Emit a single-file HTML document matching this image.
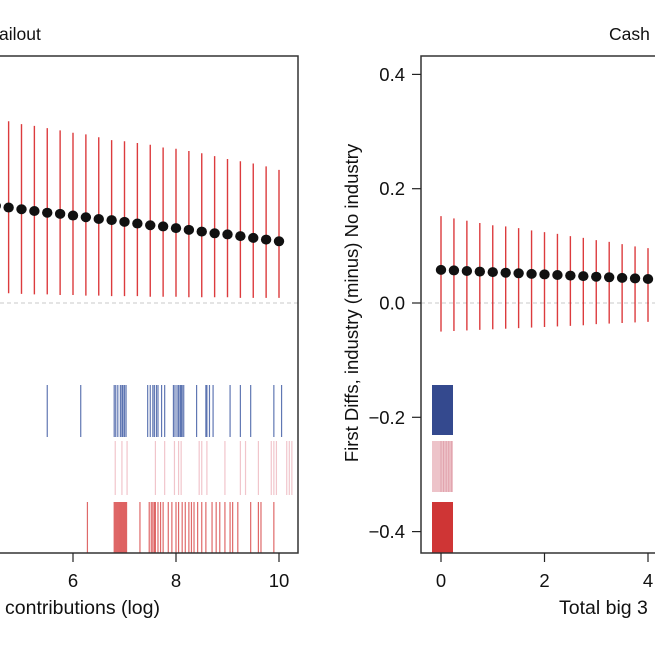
<!DOCTYPE html>
<html><head><meta charset="utf-8"><style>
body{margin:0;background:#fff}
svg{display:block;font-family:"Liberation Sans",Arial,sans-serif}
</style></head><body>
<svg id="c" width="655" height="655" viewBox="0 0 655 655">
<defs>
<clipPath id="clipL"><rect x="0" y="56" width="298" height="497"/></clipPath>
<clipPath id="clipR"><rect x="421" y="56" width="234" height="497"/></clipPath>
</defs>
<g id="left"></g>
<g id="right"></g>
</svg>
<script>
const leftX=[4.5,4.75,5,5.25,5.5,5.75,6,6.25,6.5,6.75,7,7.25,7.5,7.75,8,8.25,8.5,8.75,9,9.25,9.5,9.75,10];
const leftEst=[0.170,0.167,0.164,0.161,0.158,0.156,0.153,0.150,0.147,0.145,0.142,0.139,0.136,0.134,0.131,0.128,0.125,0.122,0.120,0.117,0.114,0.111,0.108];
const leftHi=[0.322,0.318,0.313,0.310,0.306,0.302,0.298,0.295,0.290,0.285,0.283,0.280,0.277,0.272,0.270,0.266,0.262,0.257,0.252,0.248,0.244,0.239,0.233];
const leftLo=[0.018,0.017,0.016,0.015,0.015,0.014,0.014,0.013,0.013,0.012,0.012,0.012,0.011,0.011,0.011,0.010,0.010,0.010,0.010,0.009,0.009,0.009,0.009];
const leftRugBlue=[5.5,6.15,6.8,6.83,6.87,6.92,6.95,6.97,7.0,7.03,7.45,7.5,7.55,7.58,7.62,7.65,7.72,7.78,7.95,7.98,8.02,8.05,8.08,8.1,8.12,8.15,8.4,8.58,8.6,8.65,8.72,9.05,9.25,9.45,9.9,10.05];
const leftRugPink=[6.82,6.95,7.05,7.6,7.78,7.97,8.05,8.1,8.45,8.5,8.6,8.95,9.25,9.35,9.6,9.85,9.9,9.95,10.15,10.2,10.25];
const leftRugRed=[6.28,6.8,6.82,6.84,6.86,6.88,6.9,6.92,6.94,6.96,6.98,7.0,7.02,7.04,7.3,7.48,7.52,7.55,7.58,7.6,7.65,7.7,7.75,7.85,7.92,8.0,8.05,8.12,8.18,8.25,8.3,8.35,8.42,8.5,8.58,8.7,8.78,8.85,8.95,9.05,9.1,9.2,9.45,9.6,9.65,9.9];
const leftXTicks=[6,8,10];
const rightX=[0,0.25,0.5,0.75,1,1.25,1.5,1.75,2,2.25,2.5,2.75,3,3.25,3.5,3.75,4,4.25];
const rightEst=[0.058,0.057,0.056,0.055,0.054,0.053,0.052,0.051,0.050,0.049,0.048,0.047,0.046,0.045,0.044,0.043,0.042,0.041];
const rightHi=[0.152,0.148,0.144,0.140,0.136,0.134,0.131,0.127,0.124,0.121,0.117,0.114,0.110,0.107,0.103,0.099,0.096,0.093];
const rightLo=[-0.050,-0.049,-0.048,-0.047,-0.046,-0.045,-0.044,-0.043,-0.042,-0.041,-0.040,-0.039,-0.037,-0.036,-0.035,-0.034,-0.033,-0.032];
const rightRug=[0,0.05,0.1,0.15,0.2];
const rightXTicks=[0,2,4];
const yTicks=[0.4,0.2,0.0,-0.2,-0.4];
const yLabels=["0.4","0.2","0.0","\u22120.2","\u22120.4"];

const NS="http://www.w3.org/2000/svg";
function mk(p,t,a,txt){const e=document.createElementNS(NS,t);for(const k in a)e.setAttribute(k,a[k]);if(txt!==undefined)e.textContent=txt;p.appendChild(e);return e;}
const yS=v=>303-v*571.5;
const xL=v=>73+(v-6)*51.5;
const xR=v=>441+v*51.75;

function panel(g,xS,X,E,H,Lo,clip,x0,x1){
  const c=mk(g,'g',{'clip-path':'url(#'+clip+')'});
  const z=mk(c,'line',{x1:x0,x2:x1,y1:yS(0),y2:yS(0),stroke:'#c8c8c8','stroke-width':1,'stroke-dasharray':'4,3'});
  
  
  X.forEach((x,i)=>{
    const l=mk(c,'line',{x1:xS(x),x2:xS(x),y1:yS(H[i]),y2:yS(Lo[i]),stroke:'#d7191c','stroke-width':1.4,opacity:0.85});
    
    
  });
  X.forEach((x,i)=>{
    const d=mk(c,'ellipse',{cx:xS(x),cy:yS(E[i]),rx:5.2,ry:5,fill:'#111'});
    
    
  });
  return c;
}
function rug(c,xS,arr,y1,y2,col,op,w){
  arr.forEach(v=>{
    const l=mk(c,'line',{x1:xS(v),x2:xS(v),y1:y1,y2:y2,stroke:col,'stroke-width':w,opacity:op});
    
    
  });
}
function xticks(g,xS,T){
  T.forEach(t=>{
    mk(g,'line',{x1:xS(t),x2:xS(t),y1:553,y2:562,stroke:'#222','stroke-width':1.2});
    const tx=mk(g,'text',{x:xS(t),y:587,'font-size':18.5,'text-anchor':'middle',fill:'#111'},String(t));
    
    
  });
}

// Left panel
const gl=document.getElementById('left');
const cl=panel(gl,xL,leftX,leftEst,leftHi,leftLo,'clipL',0,298);
rug(cl,xL,leftRugBlue,385,437,'#2b4a9a',0.75,1.2);
rug(cl,xL,leftRugPink,441,495,'#e8a0aa',0.6,1.2);
rug(cl,xL,leftRugRed,502,553,'#d22a2a',0.7,1.2);
mk(gl,'polyline',{points:'-5,56 298,56 298,553 -5,553',fill:'none',stroke:'#333','stroke-width':1.5});
xticks(gl,xL,leftXTicks);
let t=mk(gl,'text',{x:-1,y:40,'font-size':17.5,fill:'#111'},'ailout');


t=mk(gl,'text',{x:5,y:614,'font-size':19.5,fill:'#111'},'contributions (log)');



// Right panel
const gr=document.getElementById('right');
const cr=panel(gr,xR,rightX,rightEst,rightHi,rightLo,'clipR',421,655);
const bb=mk(cr,'rect',{x:432,y:385,width:21,height:50,fill:'#34498e'});


const pb=mk(cr,'rect',{x:432,y:441,width:21,height:51,fill:'#edc3c9'});


rug(cr,xR,rightRug,441,492,'#d98a98',0.6,1);
const rb=mk(cr,'rect',{x:432,y:502,width:21,height:51,fill:'#cf3535'});


mk(gr,'polyline',{points:'660,56 421,56 421,553 660,553',fill:'none',stroke:'#333','stroke-width':1.5});
yTicks.forEach((v,i)=>{
  mk(gr,'line',{x1:412,x2:421,y1:yS(v),y2:yS(v),stroke:'#222','stroke-width':1.2});
  const tx=mk(gr,'text',{x:405,y:yS(v)+6.5,'font-size':18.5,'text-anchor':'end',fill:'#111'},yLabels[i]);
  
  
});
xticks(gr,xR,rightXTicks);
t=mk(gr,'text',{x:0,y:0,'font-size':18.5,'text-anchor':'middle',fill:'#111',transform:'translate(358,303) rotate(-90)'},'First Diffs, industry (minus) No industry');


t=mk(gr,'text',{x:559,y:614,'font-size':19.5,fill:'#111'},'Total big 3');


t=mk(gr,'text',{x:609,y:40,'font-size':17.5,fill:'#111'},'Cash');


</script>
</body></html>
